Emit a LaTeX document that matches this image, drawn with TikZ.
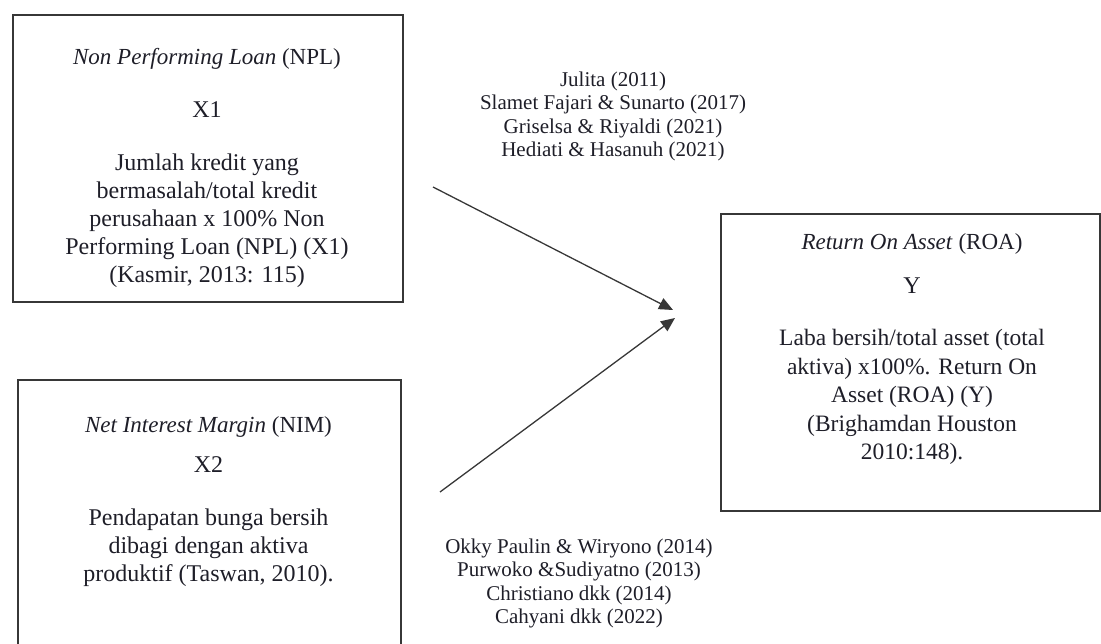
\documentclass[tikz,border=0pt]{standalone}
\usepackage{fontspec}
\setmainfont{Liberation Serif}
\usepackage{tikz}
\usetikzlibrary{arrows.meta}
\definecolor{framegray}{RGB}{55,55,55}
\definecolor{inkdark}{RGB}{30,30,40}

\begin{document}
\begin{tikzpicture}[
        x=1pt, y=1pt,
        varbox/.style={rectangle, draw=framegray, line width=1.8pt, anchor=north west,
            inner sep=0pt},
        vartitle/.style={anchor=base, inner sep=0pt, text=inkdark,
            font=\fontsize{23}{28}\selectfont},
        varsym/.style={anchor=base, inner sep=0pt, text=inkdark,
            font=\fontsize{24}{28}\selectfont},
        vardef/.style={anchor=north, inner sep=0pt, align=center, text=inkdark,
            font=\fontsize{24}{28}\selectfont},
        refs/.style={anchor=north, inner sep=0pt, align=center, text=inkdark,
            font=\fontsize{21}{23.5}\selectfont},
        link/.style={-{Triangle[length=14pt,width=12pt]}, line width=1.3pt, draw=framegray}
    ]
        \useasboundingbox (0,0) rectangle (1101,-644);
        \clip (0,0) rectangle (1101,-644);

        % variable boxes
        \node[varbox, minimum width=390pt, minimum height=287pt] (npl) at (12,-14) {};
        \node[varbox, minimum width=383pt, minimum height=300pt] (nim) at (17,-379) {};
        \node[varbox, minimum width=379pt, minimum height=297pt] (roa) at (720,-213) {};

        % X1
        \node[vartitle] (npltitle) at (207,-65) {\textit{Non Performing Loan} (NPL)};
        \node[varsym] (nplsym) at (207,-118) {X1};
        \node[vardef] (npldef) at (207,-153.6) {Jumlah kredit yang\\ bermasalah/total kredit\\
            perusahaan x 100\% Non\\ Performing Loan (NPL) (X1)\\ (Kasmir, 2013: 115)};

        % X2
        \node[vartitle] (nimtitle) at (208.5,-432) {\textit{Net Interest Margin} (NIM)};
        \node[varsym] (nimsym) at (208.5,-472) {X2};
        \node[vardef] (nimdef) at (208.5,-508.6) {Pendapatan bunga bersih\\ dibagi dengan aktiva\\
            produktif (Taswan, 2010).};

        % Y
        \node[vartitle] (roatitle) at (912,-250) {\textit{Return On Asset} (ROA)};
        \node[varsym] (roasym) at (912,-294) {Y};
        \node[vardef, font=\fontsize{23.5}{28.5}\selectfont] (roadef) at (912,-329)
            {Laba bersih/total asset (total\\ aktiva) x100\%. Return On\\ Asset (ROA) (Y)\\
            (Brighamdan Houston\\ 2010:148).};

        % prior studies
        \node[refs] (refsnpl) at (613,-71.5) {Julita (2011)\\ Slamet Fajari \& Sunarto (2017)\\
            Griselsa \& Riyaldi (2021)\\ Hediati \& Hasanuh (2021)};
        \node[refs] (refsnim) at (579,-538.5) {Okky Paulin \& Wiryono (2014)\\
            Purwoko \&Sudiyatno (2013)\\ Christiano dkk (2014)\\ Cahyani dkk (2022)};

        % paths
        \coordinate (nplout) at (433,-187);
        \coordinate (roain1) at (673,-310);
        \coordinate (nimout) at (440,-492);
        \coordinate (roain2) at (675,-318);
        \draw[link] (nplout) -- (roain1);
        \draw[link] (nimout) -- (roain2);
    \end{tikzpicture}
\end{document}
